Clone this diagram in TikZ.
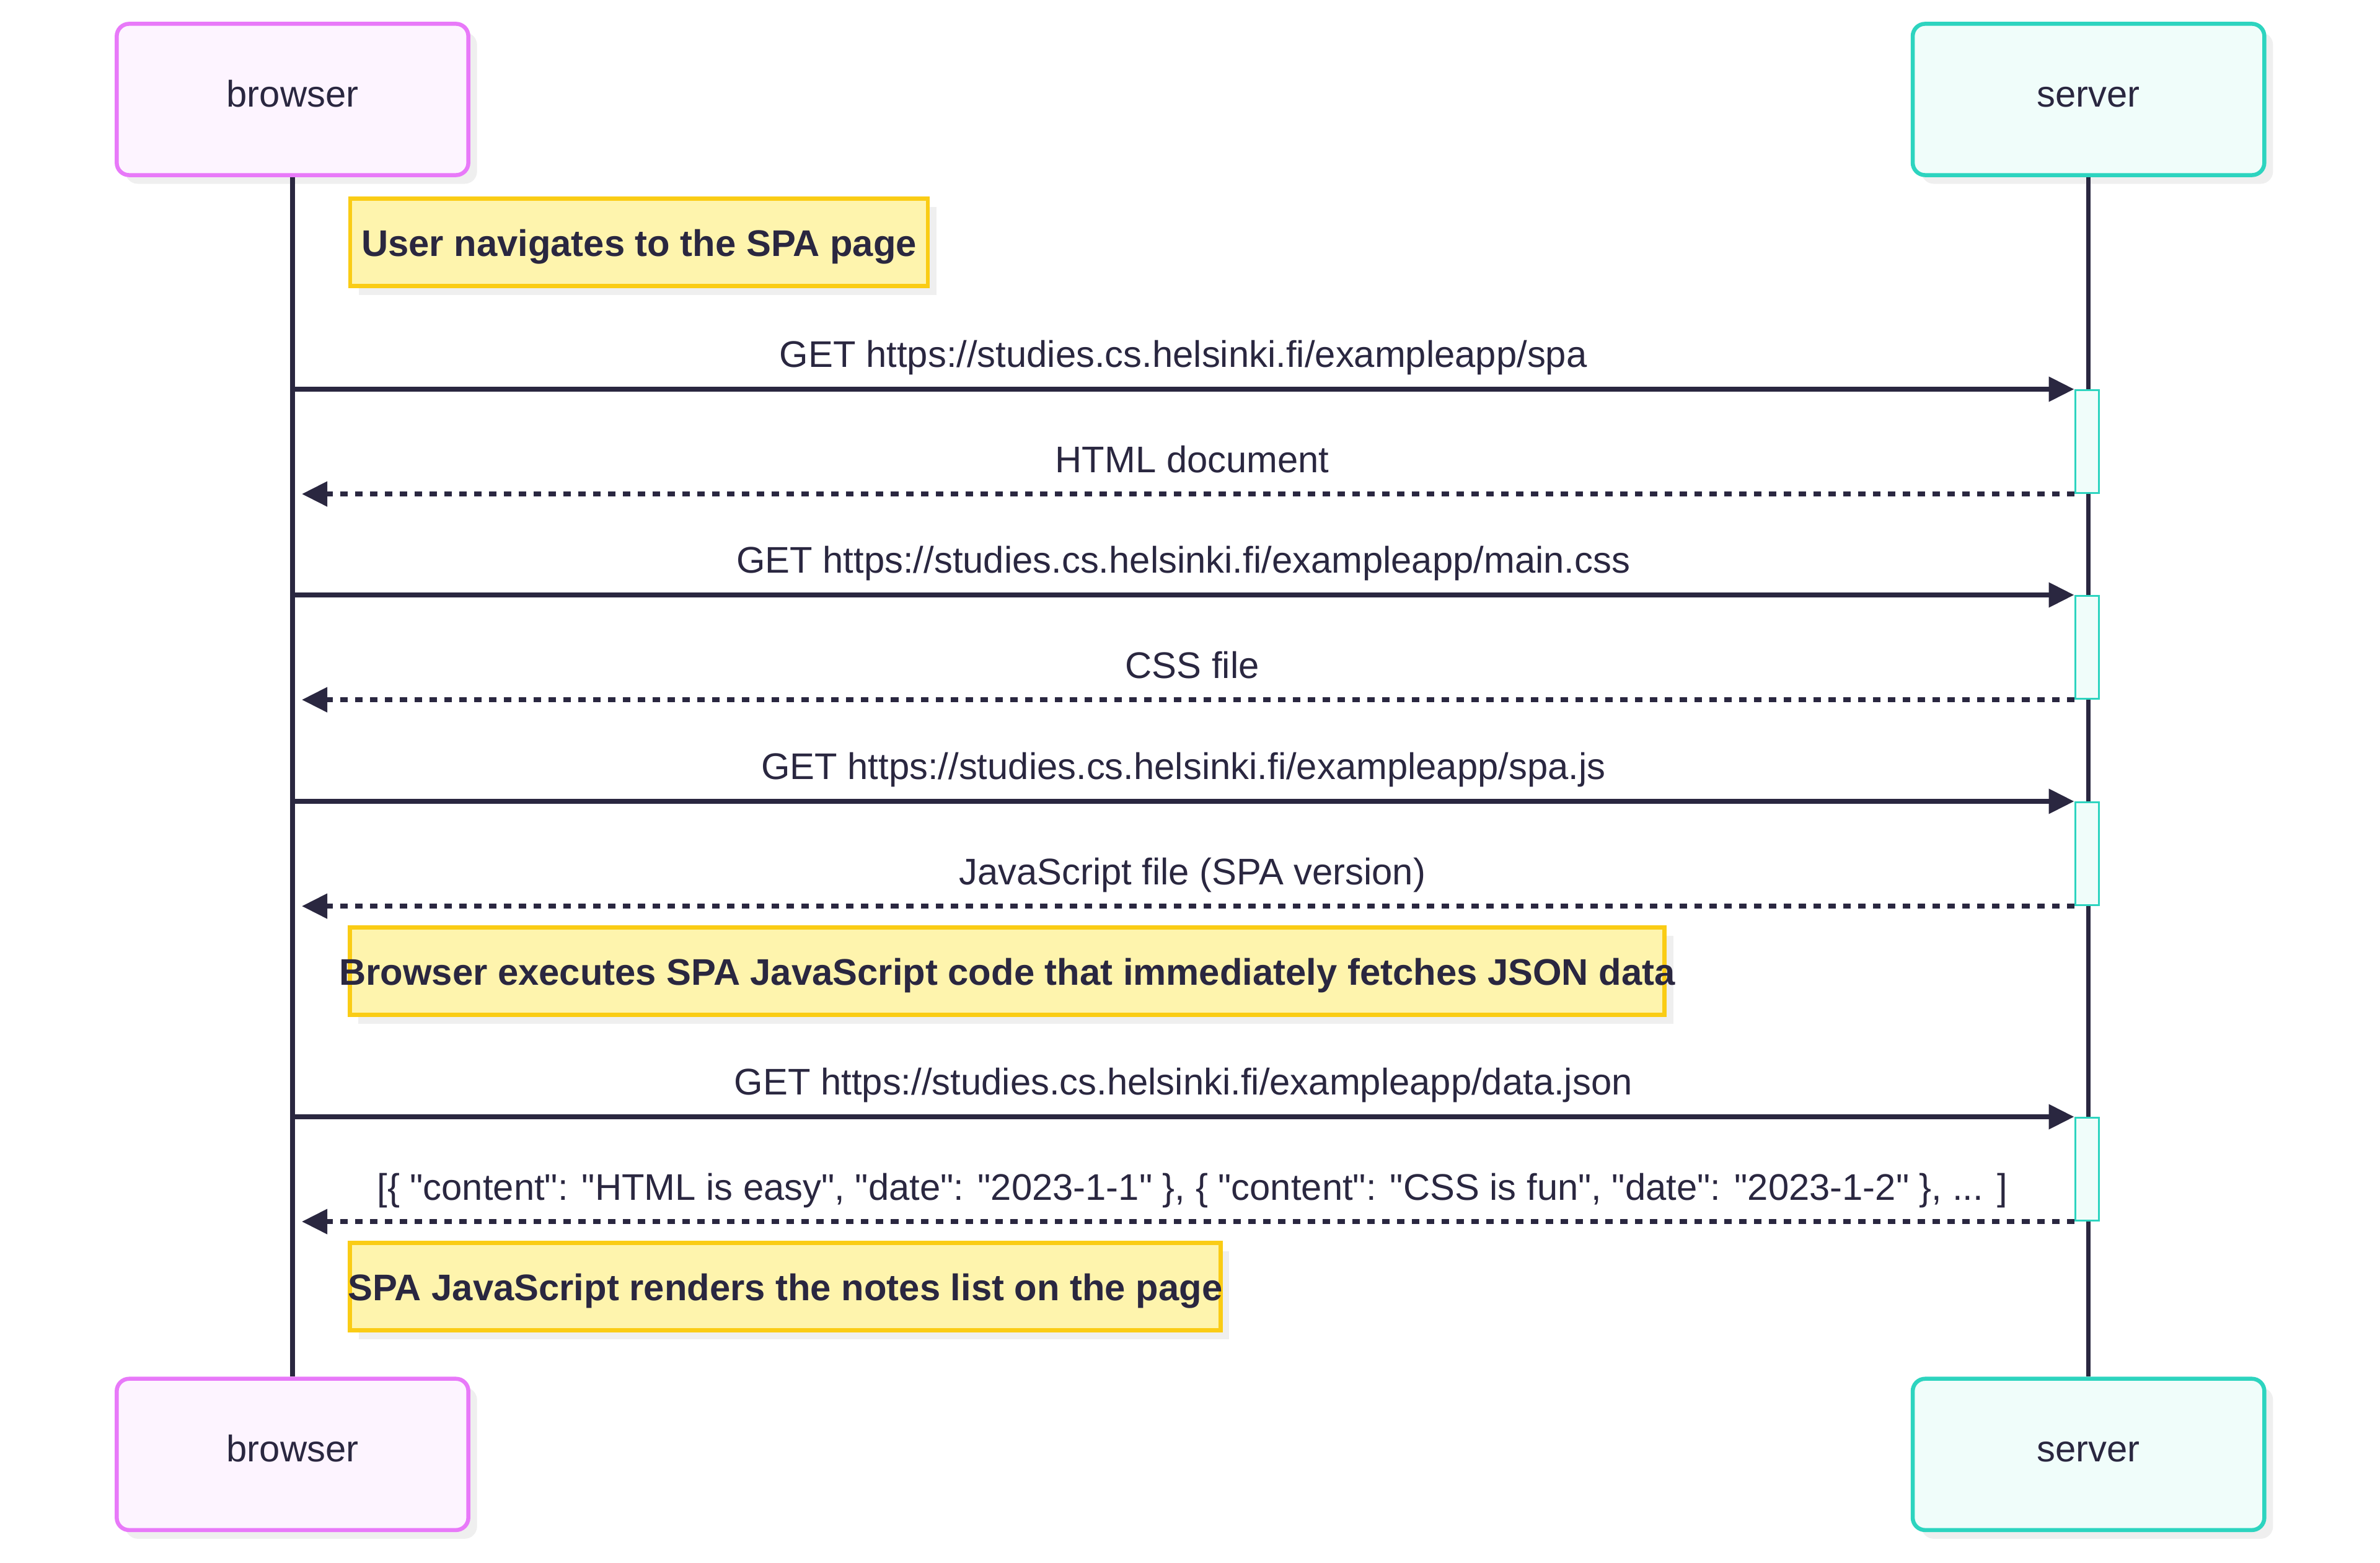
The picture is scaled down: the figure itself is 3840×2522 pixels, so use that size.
\documentclass[tikz,border=0pt]{standalone}
\usepackage{fontspec}
\setmainfont{Liberation Sans}[Ligatures=TeXOff]
\usetikzlibrary{%
  arrows.meta,%
  backgrounds,%
  positioning,%
  shadows}

\definecolor{ink}{HTML}{2A2740}
\definecolor{browserline}{HTML}{E879F9}
\definecolor{browserfill}{HTML}{FDF4FF}
\definecolor{serverline}{HTML}{2DD4BF}
\definecolor{serverfill}{HTML}{F0FDFA}
\definecolor{noteline}{HTML}{FACC15}
\definecolor{notefill}{HTML}{FEF4AD}
\definecolor{shadowgray}{HTML}{EFEFEF}

\begin{document}
\begin{tikzpicture}
  [x=0.01cm,y=-0.01cm,>={Triangle[length=0.41cm,width=0.39cm]},
   font=\fontsize{17}{20}\selectfont,text=ink,
   box shadow/.style={drop shadow={shadow xshift=0.14cm,shadow yshift=-0.14cm,fill=shadowgray,opacity=1}},
   actor/.style={rectangle,rounded corners=0.2cm,line width=0.065cm,minimum width=5.67cm,
     minimum height=2.44cm,text height=0.45cm,text depth=0.21cm,box shadow},
   browser actor/.style={actor,draw=browserline,fill=browserfill},
   server actor/.style={actor,draw=serverline,fill=serverfill},
   note/.style={rectangle,line width=0.065cm,draw=noteline,fill=notefill,minimum height=1.41cm,
     text height=0.55cm,text depth=0.11cm,font=\fontsize{17}{20}\selectfont\bfseries,box shadow},
   activation/.style={rectangle,line width=0.03cm,draw=serverline,fill=serverfill,
     minimum width=0.38cm,minimum height=1.66cm,inner sep=0pt,anchor=north},
   lifeline/.style={draw=ink,line width=0.075cm},
   request/.style={->,draw=ink,line width=0.075cm},
   reply/.style={->,draw=ink,line width=0.075cm,dash pattern=on 0.12cm off 0.12cm,shorten >=0.15cm}]

  % participants
  \node [browser actor] (browser)  at (472,160.5)                   {browser};
  \node [server actor]  (server)   [on grid,right=28.96cm of browser] {server};
  \node [browser actor] (browserB) [on grid,below=21.85cm of browser] {browser};
  \node [server actor]  (serverB)  [on grid,below=21.85cm of server]  {server};

  \begin{scope}[on background layer]
    \path [fill=white] (0,0) rectangle (3840,2522);
  \end{scope}
  \draw [lifeline] (browser.south) -- (browserB.north);
  \draw [lifeline] (server.south)  -- (serverB.north);

  % page load
  \node [note,minimum width=9.31cm] (navigate) at (1031,391)
    {\makebox[0pt]{User navigates to the SPA page}};

  \node [activation] (act1) at (3367,628) {};
  \draw [request] (act1.north west -| browser) -- (act1.north west)
    node [midway,anchor=base,yshift=0.35cm] {GET https://studies.cs.helsinki.fi/exampleapp/spa};
  \draw [reply] (act1.south west) -- (act1.south west -| browser)
    node [pos=.495,anchor=base,yshift=0.35cm] {HTML document};

  \node [activation] (act2) at (3367,960) {};
  \draw [request] (act2.north west -| browser) -- (act2.north west)
    node [midway,anchor=base,yshift=0.35cm] {GET https://studies.cs.helsinki.fi/exampleapp/main.css};
  \draw [reply] (act2.south west) -- (act2.south west -| browser)
    node [pos=.495,anchor=base,yshift=0.35cm] {CSS file};

  \node [activation] (act3) at (3367,1293) {};
  \draw [request] (act3.north west -| browser) -- (act3.north west)
    node [midway,anchor=base,yshift=0.35cm] {GET https://studies.cs.helsinki.fi/exampleapp/spa.js};
  \draw [reply] (act3.south west) -- (act3.south west -| browser)
    node [pos=.495,anchor=base,yshift=0.35cm] {JavaScript file (SPA version)};

  % data fetch
  \node [note,minimum width=21.2cm] (execute) at (1625,1567)
    {\makebox[0pt]{Browser executes SPA JavaScript code that immediately fetches JSON data}};

  \node [activation] (act4) at (3367,1802) {};
  \draw [request] (act4.north west -| browser) -- (act4.north west)
    node [midway,anchor=base,yshift=0.35cm] {GET https://studies.cs.helsinki.fi/exampleapp/data.json};
  \draw [reply] (act4.south west) -- (act4.south west -| browser)
    node [pos=.495,anchor=base,yshift=0.35cm]
      {[\{ "content": "HTML is easy", "date": "2023-1-1" \}, \{ "content": "CSS is fun", "date": "2023-1-2" \}, ... ]};

  \node [note,minimum width=14.04cm] (render) at (1267,2076)
    {\makebox[0pt]{SPA JavaScript renders the notes list on the page}};

\end{tikzpicture}
\end{document}
